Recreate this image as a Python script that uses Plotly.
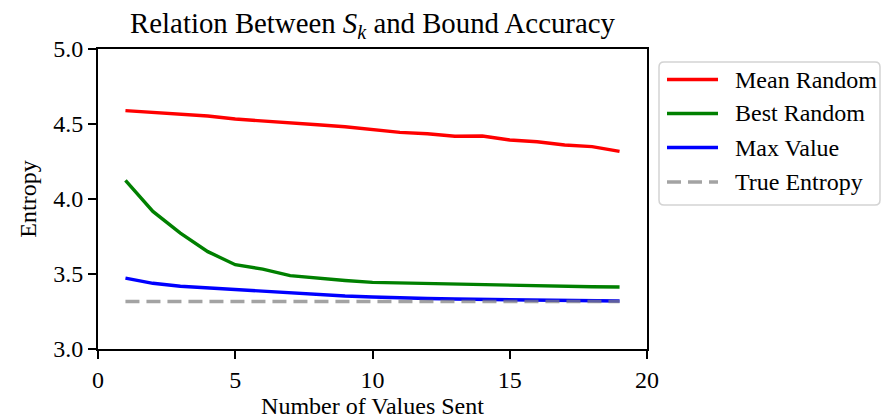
import plotly.graph_objects as go

x_values = list(range(1, 20))
mean_random = [4.589, 4.577, 4.56, 4.553, 4.533, 4.522, 4.507, 4.495, 4.482, 4.462,
               4.444, 4.435, 4.418, 4.42, 4.393, 4.382, 4.36, 4.349, 4.317]
best_random = [4.124, 3.917, 3.773, 3.649, 3.562, 3.533, 3.489, 3.471, 3.457, 3.444,
               3.44, 3.435, 3.431, 3.429, 3.427, 3.422, 3.42, 3.415, 3.413]
max_value = [3.473, 3.438, 3.418, 3.407, 3.393, 3.382, 3.371, 3.362, 3.353, 3.347,
             3.34, 3.337, 3.333, 3.331, 3.329, 3.327, 3.324, 3.322, 3.32]
true_entropy = [3.317] * 19
series_names = ["Mean Random", "Best Random", "Max Value", "True Entropy"]
x_ticks = [0, 5, 10, 15, 20]
y_ticks = [3.0, 3.5, 4.0, 4.5, 5.0]

FONT = "Liberation Serif, Times New Roman, serif"
W, H = 881, 419
L, R, T, B = 98, 647, 49, 349
PW, PH = R - L, B - T

def px(xp):
    return (xp - L) / PW

def py(yp):
    return (B - yp) / PH

colors = ["#ff0000", "#008000", "#0000ff", "rgba(128,128,128,0.72)"]
dashes = ["solid", "solid", "solid", "14px,7px"]
ys = [mean_random, best_random, max_value, true_entropy]

fig = go.Figure()
for name, yv, c, d in zip(series_names, ys, colors, dashes):
    fig.add_trace(go.Scatter(x=x_values, y=yv, mode="lines", name=name,
                             line=dict(color=c, width=3.4, dash=d), showlegend=False))

axis_common = dict(showline=True, linecolor="black", linewidth=1.9, mirror=True,
                   ticks="outside", ticklen=8, tickwidth=1.9, tickcolor="black",
                   showgrid=False, zeroline=False, automargin=False,
                   tickfont=dict(family=FONT, size=24, color="black"))

fig.update_layout(
    width=W, height=H,
    margin=dict(l=L, r=W - R, t=T, b=H - B),
    paper_bgcolor="white", plot_bgcolor="white",
    font=dict(family=FONT, color="black"),
    title=dict(text="Relation Between <i>S</i><sub><i>k</i></sub> and Bound Accuracy",
               x=(L + R) / 2 / W, xanchor="center", xref="container",
               y=1 - 23 / H, yanchor="middle", yref="container",
               font=dict(family=FONT, size=28.8, color="black")),
    xaxis=dict(range=[0, 20], tickvals=x_ticks, ticktext=[str(v) for v in x_ticks],
               title=dict(text="Number of Values Sent", standoff=8,
                          font=dict(family=FONT, size=24, color="black")),
               **axis_common),
    yaxis=dict(range=[3, 5], tickvals=y_ticks, ticktext=[f"{v:.1f}" for v in y_ticks],
               title=dict(text="Entropy", standoff=10,
                          font=dict(family=FONT, size=24, color="black")),
               **axis_common),
)

# Custom legend (matplotlib style)
bx0, bx1, by0, by1 = 659, 880, 62, 205
r = 5
rx, ry = r / PW, r / PH
X0, X1, Y0, Y1 = px(bx0), px(bx1), py(by1), py(by0)
path = (f"M {X0+rx},{Y1} L {X1-rx},{Y1} Q {X1},{Y1} {X1},{Y1-ry} "
        f"L {X1},{Y0+ry} Q {X1},{Y0} {X1-rx},{Y0} L {X0+rx},{Y0} "
        f"Q {X0},{Y0} {X0},{Y0+ry} L {X0},{Y1-ry} Q {X0},{Y1} {X0+rx},{Y1} Z")
shapes = [dict(type="path", path=path, xref="paper", yref="paper",
               line=dict(color="#d3d3d3", width=1.5), fillcolor="rgba(255,255,255,0.8)",
               layer="above")]
annotations = []
row_y = [79.5, 113.5, 147.5, 182]
for name, c, d, yy in zip(series_names, colors, dashes, row_y):
    shapes.append(dict(type="line", xref="paper", yref="paper",
                       x0=px(667), x1=px(718), y0=py(yy), y1=py(yy),
                       line=dict(color=c, width=3.4, dash=d), layer="above"))
    annotations.append(dict(text=name, xref="paper", yref="paper",
                            x=px(733), y=py(yy), xanchor="left", yanchor="middle",
                            showarrow=False,
                            font=dict(family=FONT, size=24, color="black")))
fig.update_layout(shapes=shapes, annotations=annotations)

fig.write_html("out.html")
